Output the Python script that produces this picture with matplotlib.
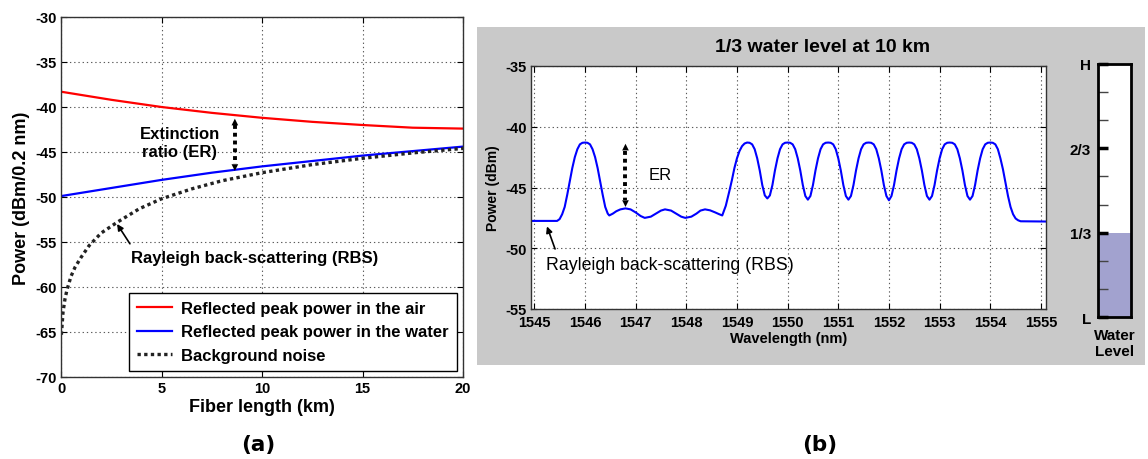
import matplotlib
matplotlib.use("Agg")
import matplotlib.pyplot as plt
from matplotlib.patches import Rectangle

plt.rcParams['font.family'] = ['Liberation Sans', 'DejaVu Sans']
plt.rcParams['axes.unicode_minus'] = False

# ---------------- (a) peak power versus fiber length ----------------
fiber_km = [0, 2.5, 5, 7.5, 10, 12.5, 15, 17.5, 20]
peak_air_dbm = [-38.3, -39.2, -40.0, -40.65, -41.2, -41.65, -42.0, -42.3, -42.4]
peak_water_dbm = [-49.9, -49.0, -48.1, -47.3, -46.6, -46.0, -45.4, -44.9, -44.4]
noise_km = [0.02, 0.1, 0.2, 0.3, 0.5, 0.7, 1.0, 1.4, 2.0, 2.8, 3.9, 5.0,
            6.5, 8.0, 10, 12.5, 15, 17.5, 20]
noise_dbm = [-65.3, -62.8, -61.3, -60.3, -58.8, -57.8, -56.7, -55.4, -54.0,
             -52.8, -51.3, -50.2, -49.1, -48.2, -47.3, -46.4, -45.7, -45.1, -44.6]
legend_labels = ['Reflected peak power in the air',
                 'Reflected peak power in the water',
                 'Background noise']

# ---------------- (b) reflection spectrum ----------------
wl_first = [1544.93, 1545.45, 1545.50, 1545.55, 1545.60, 1545.65, 1545.70, 1545.75,
            1545.80, 1545.85, 1545.90, 1545.95, 1546.00, 1546.05, 1546.10, 1546.15,
            1546.20, 1546.25, 1546.30, 1546.35, 1546.40, 1546.45, 1546.48]
pw_first = [-47.75, -47.75, -47.6, -47.2, -46.6, -45.6, -44.5, -43.4,
            -42.5, -41.85, -41.45, -41.32, -41.3, -41.32, -41.45, -41.85,
            -42.5, -43.4, -44.5, -45.6, -46.6, -47.15, -47.3]

wl_ripple = [1546.55, 1546.62, 1546.70, 1546.80, 1546.90, 1547.00, 1547.10, 1547.18,
             1547.30, 1547.40, 1547.50, 1547.58, 1547.70, 1547.80, 1547.90, 1547.98,
             1548.10, 1548.20, 1548.28, 1548.37, 1548.47, 1548.57, 1548.65, 1548.71]
pw_ripple = [-47.15, -46.95, -46.8, -46.72, -46.8, -47.05, -47.35, -47.5,
             -47.4, -47.15, -46.9, -46.8, -46.9, -47.15, -47.4, -47.5,
             -47.4, -47.15, -46.9, -46.8, -46.88, -47.05, -47.2, -47.3]

wl_rise = [1548.78, 1548.85, 1548.90, 1548.95, 1549.00, 1549.05, 1549.10, 1549.15]
pw_rise = [-46.5, -45.3, -44.4, -43.4, -42.6, -42.0, -41.6, -41.38]

wl_comb = [
    1549.20, 1549.25, 1549.30, 1549.35, 1549.40, 1549.45, 1549.50, 1549.55,
    1549.60, 1549.65, 1549.70, 1549.75, 1549.80, 1549.85, 1549.90, 1549.95,
    1550.00, 1550.05, 1550.10, 1550.15, 1550.20, 1550.25, 1550.30, 1550.35,
    1550.40, 1550.45, 1550.50, 1550.55, 1550.60, 1550.65, 1550.70, 1550.75,
    1550.80, 1550.85, 1550.90, 1550.95, 1551.00, 1551.05, 1551.10, 1551.15,
    1551.20, 1551.25, 1551.30, 1551.35, 1551.40, 1551.45, 1551.50, 1551.55,
    1551.60, 1551.65, 1551.70, 1551.75, 1551.80, 1551.85, 1551.90, 1551.95,
    1552.00, 1552.05, 1552.10, 1552.15, 1552.20, 1552.25, 1552.30, 1552.35,
    1552.40, 1552.45, 1552.50, 1552.55, 1552.60, 1552.65, 1552.70, 1552.75,
    1552.80, 1552.85, 1552.90, 1552.95, 1553.00, 1553.05, 1553.10, 1553.15,
    1553.20, 1553.25, 1553.30, 1553.35, 1553.40, 1553.45, 1553.50, 1553.55,
    1553.60, 1553.65, 1553.70, 1553.75, 1553.80, 1553.85, 1553.90, 1553.95,
]
pw_comb = [
    -41.3, -41.32, -41.45, -41.85, -42.6, -43.6, -44.8, -45.65,
    -45.9, -45.65, -44.8, -43.6, -42.6, -41.85, -41.45, -41.32,
    -41.3, -41.32, -41.45, -41.85, -42.6, -43.6, -44.8, -45.7,
    -46.0, -45.7, -44.8, -43.6, -42.6, -41.85, -41.45, -41.32,
    -41.3, -41.32, -41.45, -41.85, -42.6, -43.6, -44.8, -45.7,
    -46.0, -45.7, -44.8, -43.6, -42.6, -41.85, -41.45, -41.32,
    -41.3, -41.32, -41.45, -41.85, -42.6, -43.6, -44.8, -45.7,
    -46.05, -45.7, -44.8, -43.6, -42.6, -41.85, -41.45, -41.32,
    -41.3, -41.32, -41.45, -41.85, -42.6, -43.6, -44.8, -45.7,
    -46.0, -45.7, -44.8, -43.6, -42.6, -41.85, -41.45, -41.32,
    -41.3, -41.32, -41.45, -41.85, -42.6, -43.6, -44.8, -45.7,
    -46.0, -45.7, -44.8, -43.6, -42.6, -41.85, -41.45, -41.32,
]

wl_last = [1554.00, 1554.05, 1554.10, 1554.15, 1554.20, 1554.25, 1554.30, 1554.35,
           1554.40, 1554.45, 1554.50, 1554.55, 1554.60, 1555.10]
pw_last = [-41.3, -41.32, -41.45, -41.85, -42.6, -43.5, -44.6, -45.7,
           -46.6, -47.2, -47.55, -47.7, -47.78, -47.8]

wavelength_nm = wl_first + wl_ripple + wl_rise + wl_comb + wl_last
power_dbm = pw_first + pw_ripple + pw_rise + pw_comb + pw_last

water_level = 1 / 3
level_ticks = [0, 1 / 3, 2 / 3, 1]
level_labels = ['L', '1/3', '2/3', 'H']

# ---------------- figure ----------------
W, H = 1148, 460
fig = plt.figure(figsize=(W / 100, H / 100), dpi=100)


def px_axes(left, top, right, bottom):
    return fig.add_axes([left / W, 1 - bottom / H, (right - left) / W, (bottom - top) / H])


grid_kw = dict(color='#5a5a5a', linestyle=(0, (1.2, 2.6)), linewidth=0.8)


def style_axes(ax):
    ax.grid(True, **grid_kw)
    ax.set_axisbelow(True)
    ax.tick_params(direction='in', length=4, width=0.8, top=True, right=True,
                   labelsize=10.5, pad=3)
    for lab in ax.get_xticklabels() + ax.get_yticklabels():
        lab.set_fontweight('bold')
    for sp in ax.spines.values():
        sp.set_color('#333333')
        sp.set_linewidth(1.0)


def dotted_double_arrow(ax, x, y_top, y_bot, head):
    ax.plot([x, x], [y_top - head * 0.8, y_bot + head * 0.8], color='k', lw=2.8,
            linestyle=(0, (1, 1)), zorder=4)
    for tip, tail in ((y_top, y_top - head), (y_bot, y_bot + head)):
        ax.annotate('', xy=(x, tip), xytext=(x, tail),
                    arrowprops=dict(arrowstyle='-|>', color='k', lw=0,
                                    mutation_scale=12, shrinkA=0, shrinkB=0),
                    zorder=5)


# grey backdrop of panel (b), kept behind every axes
fig.patches.append(Rectangle((477 / W, 1 - 366 / H), (1145 - 477) / W, (366 - 28) / H,
                             transform=fig.transFigure, facecolor='#c9c9c9',
                             edgecolor='none', zorder=-10))

# ---- panel (a) ----
ax1 = px_axes(61, 18, 463, 378)
ax1.set_xlim(0, 20)
ax1.set_ylim(-70, -30)
ax1.set_xticks([0, 5, 10, 15, 20])
ax1.set_yticks([-70, -65, -60, -55, -50, -45, -40, -35, -30])
l_air, = ax1.plot(fiber_km, peak_air_dbm, color='#ff0000', lw=1.6)
l_water, = ax1.plot(fiber_km, peak_water_dbm, color='#0000ff', lw=1.6)
l_noise, = ax1.plot(noise_km, noise_dbm, color='#222222', lw=2.4, linestyle=(0, (1, 1)))
style_axes(ax1)
ax1.set_xlabel('Fiber length (km)', fontsize=13, fontweight='bold', labelpad=2)
ax1.set_ylabel('Power (dBm/0.2 nm)', fontsize=13, fontweight='bold', labelpad=4)

leg = ax1.legend([l_air, l_water, l_noise], legend_labels, loc='lower right',
                 prop=dict(size=12, weight='bold'), fancybox=False, framealpha=1,
                 edgecolor='black', borderaxespad=0.35, handlelength=2.1,
                 handletextpad=0.55, labelspacing=0.5, borderpad=0.5)
leg.get_frame().set_linewidth(1.0)

ax1.text(5.9, -43.95, 'Extinction\nratio (ER)', ha='center', va='center',
         fontsize=12, fontweight='bold', linespacing=1.25)
dotted_double_arrow(ax1, 8.65, -41.3, -47.1, 0.9)
ax1.text(3.48, -56.7, 'Rayleigh back-scattering (RBS)', ha='left', va='center',
         fontsize=12, fontweight='bold')
ax1.annotate('', xy=(2.79, -53.0), xytext=(3.43, -55.2),
             arrowprops=dict(arrowstyle='-|>', color='k', lw=1.2, mutation_scale=9,
                             shrinkA=0, shrinkB=0))

# ---- panel (b) ----
ax2 = px_axes(531, 67, 1046, 310)
ax2.set_facecolor('white')
ax2.set_xlim(1544.935, 1555.1)
ax2.set_ylim(-55, -35)
ax2.set_xticks(list(range(1545, 1556)))
ax2.set_yticks([-55, -50, -45, -40, -35])
ax2.plot(wavelength_nm, power_dbm, color='#0000ff', lw=1.5)
style_axes(ax2)
ax2.tick_params(axis='x', pad=4.5)
ax2.set_xlabel('Wavelength (nm)', fontsize=10.5, fontweight='bold', labelpad=1)
ax2.set_ylabel('Power (dBm)', fontsize=10, fontweight='bold', labelpad=4)

fig.text(823 / W, 1 - 47 / H, '1/3 water level at 10 km', ha='center', va='center',
         fontsize=14, fontweight='bold')
ax2.text(1547.48, -43.9, 'ER', ha='center', va='center', fontsize=12)
dotted_double_arrow(ax2, 1546.8, -41.4, -46.6, 0.75)
ax2.text(1545.23, -51.3, 'Rayleigh back-scattering (RBS)', ha='left', va='center',
         fontsize=12.8)
ax2.annotate('', xy=(1545.25, -48.2), xytext=(1545.41, -50.06),
             arrowprops=dict(arrowstyle='-|>', color='k', lw=1.2, mutation_scale=9,
                             shrinkA=0, shrinkB=0))

# water level gauge
ax3 = px_axes(1098, 65, 1131, 318)
ax3.set_facecolor('white')
ax3.set_xlim(0, 1)
ax3.set_ylim(0, 1)
ax3.bar(0.5, water_level, width=1.0, color='#a2a2cf', edgecolor='none')
ax3.set_xticks([])
ax3.set_yticks(level_ticks)
ax3.set_yticklabels(level_labels, fontsize=11, fontweight='bold')
ax3.set_yticks([k / 9 for k in (1, 2, 4, 5, 7, 8)], minor=True)
ax3.tick_params(axis='y', which='major', direction='in', length=7, width=2.5,
                color='black', pad=5)
ax3.tick_params(axis='y', which='minor', direction='in', length=7.5, width=1,
                color='#444444')
for sp in ax3.spines.values():
    sp.set_color('black')
    sp.set_linewidth(2)
fig.text(1115 / W, 1 - 344 / H, 'Water\nLevel', ha='center', va='center',
         fontsize=11, fontweight='bold', linespacing=1.1)

# panel labels
for xp, lab in ((258, '(a)'), (820, '(b)')):
    fig.text(xp / W, 1 - 445 / H, lab, ha='center', va='center', fontsize=15.5,
             fontweight='bold', family=['DejaVu Sans'])

fig.savefig('out.png', dpi=100)
